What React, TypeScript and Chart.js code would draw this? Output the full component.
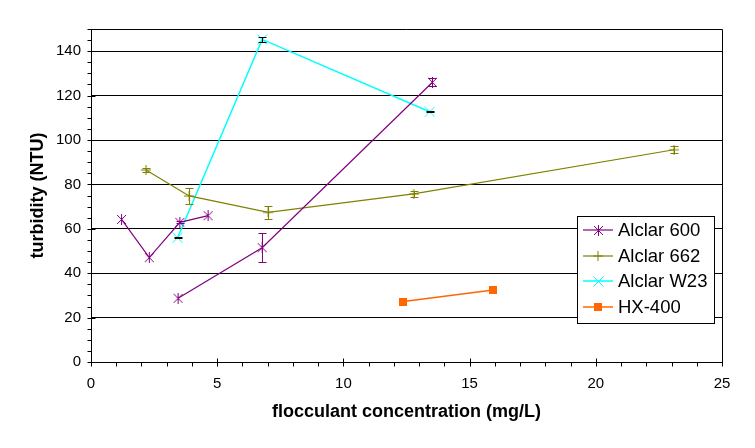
import React, { useEffect, useRef } from 'react';
import { Chart, registerables } from 'chart.js';

Chart.register(...registerables);

const FONT = '"Liberation Sans", Arial, sans-serif';

// Alclar 600 (null = break in line)
const a600X = [1.21, 2.31, 3.52, 4.64, null, 3.45, 6.78, 13.53];
const a600Y = [64.2, 47.0, 62.9, 65.9, null, 28.7, 51.5, 126.0];
const a600Err = [0, 0, 0.5, 0, 0, 0, 6.4, 1.9];

// Alclar 662
const a662X = [2.18, 3.89, 7.02, 12.78, 23.1];
const a662Y = [86.5, 74.8, 67.4, 75.7, 95.6];
const a662Err = [1.0, 3.6, 2.8, 1.5, 1.6];

// Alclar W23
const w23X = [3.43, 6.78, 13.42];
const w23Y = [56.0, 145.3, 112.7];
const w23Err = [0.3, 1.0, 0.3];

// HX-400
const hxX = [12.38, 15.94];
const hxY = [27.2, 32.4];
const hxErr = [0, 0];

const seriesLabels = ['Alclar 600', 'Alclar 662', 'Alclar W23', 'HX-400'];
const seriesColors = ['#800080', '#808000', '#00FFFF', '#FF6600'];
const seriesWidths = [1.2, 1.2, 1.5, 1.5];
const errorColors = ['#800080', '#808000', '#000000', '#FF6600'];

const xTicks = { min: 0, max: 25, step: 5, minor: 1 };
const yTicks = { min: 0, max: 150, step: 20, minor: 5 };

function makeMarker(kind: string, color: string): HTMLCanvasElement {
  const c = document.createElement('canvas');
  const s = kind === 'square' ? 8 : kind === 'plus' ? 10 : 11;
  c.width = s;
  c.height = s;
  const g = c.getContext('2d')!;
  g.strokeStyle = color;
  g.fillStyle = color;
  g.lineWidth = 1;
  g.beginPath();
  if (kind === 'square') {
    g.fillRect(0, 0, s, s);
  } else if (kind === 'plus') {
    g.moveTo(0, s / 2); g.lineTo(s, s / 2);
    g.moveTo(s / 2, 0); g.lineTo(s / 2, s);
  } else if (kind === 'x') {
    g.moveTo(0.5, 0.5); g.lineTo(s - 0.5, s - 0.5);
    g.moveTo(s - 0.5, 0.5); g.lineTo(0.5, s - 0.5);
  } else {
    g.moveTo(1, 1); g.lineTo(s - 1, s - 1);
    g.moveTo(s - 1, 1); g.lineTo(1, s - 1);
    g.moveTo(s / 2, 0); g.lineTo(s / 2, s);
  }
  g.stroke();
  return c;
}

function toPoints(xs: (number | null)[], ys: (number | null)[]) {
  return xs.map((x, i) => ({ x: x as any, y: ys[i] as any }));
}

export default function App() {
  const ref = useRef<HTMLCanvasElement>(null);

  useEffect(() => {
    if (!ref.current) return;
    const markers = [
      makeMarker('star', seriesColors[0]),
      makeMarker('plus', seriesColors[1]),
      makeMarker('x', seriesColors[2]),
      makeMarker('square', seriesColors[3]),
    ];
    const errs = [a600Err, a662Err, w23Err, hxErr];

    const frame = {
      id: 'frame',
      beforeDatasetsDraw(chart: any) {
        const { ctx, chartArea: a, scales } = chart;
        ctx.save();
        ctx.strokeStyle = '#000';
        ctx.lineWidth = 1;
        ctx.beginPath();
        ctx.moveTo(a.left, Math.round(a.top) + 0.5);
        ctx.lineTo(Math.round(a.right) + 0.5, Math.round(a.top) + 0.5);
        ctx.lineTo(Math.round(a.right) + 0.5, a.bottom);
        const xs = Math.round(a.left) + 0.5;
        for (let v = yTicks.min; v <= yTicks.max; v += yTicks.minor) {
          const py = Math.round(scales.y.getPixelForValue(v)) + 0.5;
          const major = v % yTicks.step === 0;
          ctx.moveTo(xs - 4, py);
          ctx.lineTo(major ? xs + 4 : xs, py);
        }
        const ys = Math.round(a.bottom) + 0.5;
        for (let v = xTicks.min; v <= xTicks.max; v += xTicks.minor) {
          const px = Math.round(scales.x.getPixelForValue(v)) + 0.5;
          const major = v % xTicks.step === 0;
          ctx.moveTo(px, major ? ys - 4 : ys);
          ctx.lineTo(px, ys + 4);
        }
        ctx.stroke();
        ctx.restore();
      },
      afterDatasetsDraw(chart: any) {
        const { ctx, scales } = chart;
        ctx.save();
        ctx.lineWidth = 1;
        chart.data.datasets.forEach((ds: any, i: number) => {
          ctx.strokeStyle = errorColors[i];
          ds.data.forEach((p: any, j: number) => {
            const e = errs[i][j];
            if (p.y == null || !e) return;
            const px = Math.round(scales.x.getPixelForValue(p.x)) + 0.5;
            const t = Math.round(scales.y.getPixelForValue(p.y + e)) + 0.5;
            const b = Math.round(scales.y.getPixelForValue(p.y - e)) + 0.5;
            ctx.beginPath();
            ctx.moveTo(px, t); ctx.lineTo(px, b);
            ctx.moveTo(px - 4, t); ctx.lineTo(px + 4, t);
            ctx.moveTo(px - 4, b); ctx.lineTo(px + 4, b);
            ctx.stroke();
          });
        });
        ctx.restore();
      },
      afterDraw(chart: any) {
        const { ctx } = chart;
        ctx.save();
        const bx = 577.5, by = 216.5, bw = 137, bh = 107;
        ctx.fillStyle = '#fff';
        ctx.fillRect(bx, by, bw, bh);
        ctx.strokeStyle = '#000';
        ctx.lineWidth = 1;
        ctx.strokeRect(bx, by, bw, bh);
        const rows = [230, 256, 281, 307];
        ctx.font = `18.5px ${FONT}`;
        ctx.textBaseline = 'middle';
        ctx.textAlign = 'left';
        seriesLabels.forEach((lab, i) => {
          const y = rows[i];
          ctx.strokeStyle = seriesColors[i];
          ctx.lineWidth = seriesWidths[i];
          ctx.beginPath();
          ctx.moveTo(583, y);
          ctx.lineTo(613, y);
          ctx.stroke();
          const m = markers[i];
          ctx.drawImage(m, Math.round(598 - m.width / 2), Math.round(y - m.height / 2));
          ctx.fillStyle = '#000';
          ctx.fillText(lab, 618, y + 1);
        });
        ctx.restore();
      },
    };

    const datasets = [
      toPoints(a600X, a600Y),
      toPoints(a662X, a662Y),
      toPoints(w23X, w23Y),
      toPoints(hxX, hxY),
    ].map((data, i) => ({
      label: seriesLabels[i],
      data,
      showLine: true,
      spanGaps: false,
      borderColor: seriesColors[i],
      backgroundColor: seriesColors[i],
      borderWidth: seriesWidths[i],
      pointStyle: markers[i] as any,
      pointRadius: 5,
      pointHoverRadius: 5,
    }));

    const chart = new Chart(ref.current, {
      type: 'scatter',
      data: { datasets },
      options: {
        animation: false,
        responsive: false,
        events: [],
        layout: { padding: { top: 29, right: 33, left: 0, bottom: 0 } },
        plugins: { legend: { display: false }, tooltip: { enabled: false } },
        scales: {
          x: {
            type: 'linear',
            min: xTicks.min,
            max: xTicks.max,
            ticks: { stepSize: xTicks.step, color: '#000', font: { family: FONT, size: 15 }, padding: 13, maxRotation: 0 },
            grid: { display: false, drawTicks: false },
            border: { color: '#000', width: 1 },
            title: {
              display: true,
              text: 'flocculant concentration (mg/L)',
              color: '#000',
              font: { family: FONT, size: 18, weight: 'bold' },
              padding: { top: 0, bottom: 25 },
            },
            afterFit: (s: any) => { s.height = 86; },
          },
          y: {
            type: 'linear',
            min: yTicks.min,
            max: yTicks.max,
            ticks: { stepSize: yTicks.step, includeBounds: false, color: '#000', font: { family: FONT, size: 15 }, padding: 10 } as any,
            grid: { color: '#000', lineWidth: 1, drawTicks: false },
            border: { color: '#000', width: 1 },
            title: {
              display: true,
              text: 'turbidity (NTU)',
              color: '#000',
              font: { family: FONT, size: 18, weight: 'bold' },
              padding: { top: 27, bottom: 0 },
            },
            afterFit: (s: any) => { s.width = 91; },
          },
        },
      },
      plugins: [frame],
    });
    return () => chart.destroy();
  }, []);

  return (
    <div style={{ position: 'absolute', left: 0, top: 0, width: 755, height: 448, background: '#fff' }}>
      <canvas ref={ref} width={755} height={448} style={{ display: 'block' }} />
    </div>
  );
}
